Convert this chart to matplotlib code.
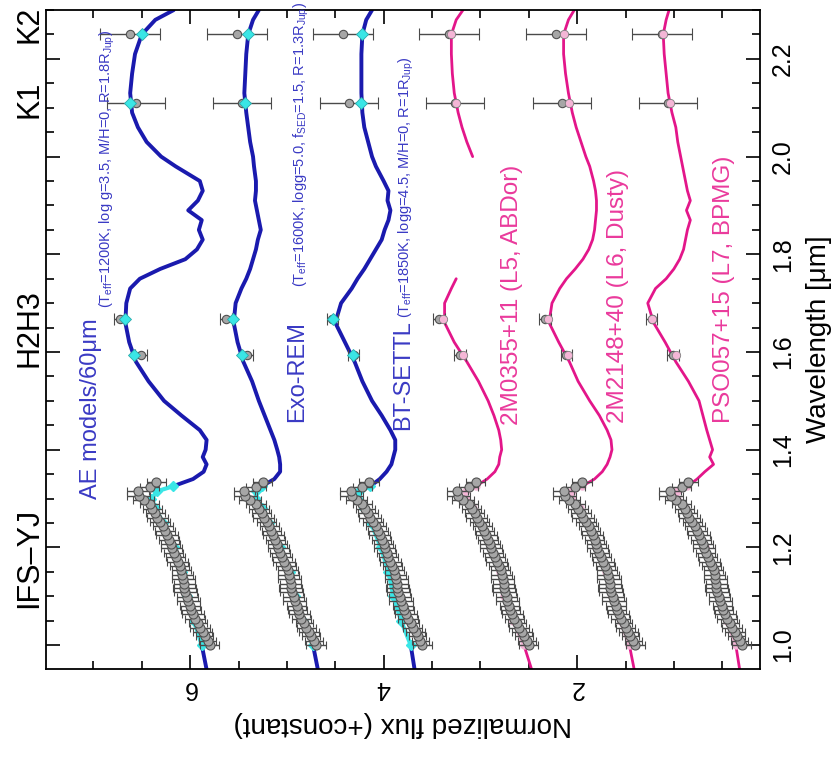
import numpy as np
import matplotlib
matplotlib.use("Agg")
import matplotlib.pyplot as plt
from matplotlib.ticker import MultipleLocator
import matplotlib.transforms as mtransforms

plt.rcParams['font.family'] = ['Liberation Sans', 'DejaVu Sans']
plt.rcParams['mathtext.default'] = 'regular'

# wavelength grid of the model / template spectra [um]
model_wl = [0.95, 1.00, 1.05, 1.10, 1.15, 1.20, 1.25, 1.28, 1.30, 1.315,
            1.325, 1.34, 1.355, 1.37, 1.385, 1.40, 1.42, 1.44, 1.47, 1.50,
            1.54, 1.58, 1.62, 1.66, 1.70, 1.73, 1.75, 1.77, 1.79, 1.81,
            1.83, 1.85, 1.87, 1.89, 1.91, 1.93, 1.95, 1.98, 2.00, 2.03,
            2.06, 2.09, 2.13, 2.17, 2.21, 2.25, 2.28, 2.30]

ae_flux = [5.83, 5.88, 5.96, 6.03, 6.08, 6.17, 6.28, 6.36, 6.40, 6.34,
           6.18, 5.97, 5.86, 5.83, 5.87, 5.84, 5.83, 5.90, 6.09, 6.27,
           6.43, 6.56, 6.63, 6.67, 6.66, 6.62, 6.52, 6.31, 6.05, 5.93,
           5.87, 5.91, 5.88, 6.02, 5.92, 5.87, 5.90, 6.15, 6.30, 6.45,
           6.54, 6.60, 6.62, 6.60, 6.57, 6.50, 6.36, 6.17]
exorem_flux = [4.68, 4.73, 4.83, 4.92, 4.97, 5.07, 5.18, 5.26, 5.32, 5.32,
               5.26, 5.13, 5.07, 5.07, 5.08, 5.10, 5.13, 5.17, 5.23, 5.29,
               5.36, 5.45, 5.51, 5.55, 5.53, 5.47, 5.42, 5.38, 5.35, 5.32,
               5.30, 5.27, 5.29, 5.31, 5.33, 5.32, 5.32, 5.34, 5.35, 5.38,
               5.40, 5.42, 5.44, 5.43, 5.42, 5.40, 5.35, 5.29]
btsettl_flux = [3.68, 3.72, 3.82, 3.90, 3.95, 4.03, 4.13, 4.20, 4.27, 4.25,
                4.14, 4.04, 3.97, 3.92, 3.90, 3.88, 3.88, 3.93, 4.02, 4.12,
                4.22, 4.30, 4.40, 4.50, 4.44, 4.33, 4.27, 4.20, 4.14, 4.08,
                4.02, 3.99, 3.95, 3.93, 3.96, 3.95, 4.00, 4.08, 4.12, 4.16,
                4.20, 4.22, 4.23, 4.23, 4.23, 4.22, 4.18, 4.12]
m0355_flux = [2.47, 2.55, 2.66, 2.76, 2.80, 2.90, 3.00, 3.08, 3.15, 3.15,
              3.05, 2.93, 2.85, 2.81, 2.80, 2.78, 2.79, 2.81, 2.86, 2.92,
              3.02, 3.14, 3.27, 3.37, 3.37, 3.30, 3.25, np.nan, np.nan, np.nan,
              np.nan, np.nan, np.nan, np.nan, np.nan, np.nan, np.nan, np.nan, 3.08, 3.14,
              3.19, 3.23, 3.27, 3.29, 3.30, 3.30, 3.25, 3.18]
m2148_flux = [1.41, 1.46, 1.55, 1.64, 1.70, 1.80, 1.90, 1.97, 2.05, 2.05,
              1.95, 1.82, 1.74, 1.69, 1.66, 1.64, 1.65, 1.69, 1.77, 1.87,
              1.99, 2.08, 2.19, 2.29, 2.26, 2.18, 2.11, 2.02, 1.94, 1.88,
              1.84, 1.82, 1.81, 1.80, 1.80, 1.81, 1.83, 1.87, 1.91, 1.96,
              2.01, 2.05, 2.09, 2.12, 2.14, 2.14, 2.09, 2.03]
pso057_flux = [0.32, 0.36, 0.45, 0.53, 0.58, 0.68, 0.80, 0.88, 0.97, 0.97,
               0.86, 0.76, 0.68, 0.59, 0.63, 0.60, 0.63, 0.66, 0.70, 0.74,
               0.85, 0.98, 1.09, 1.21, 1.27, 1.19, 1.08, 1.00, 0.94, 0.90,
               0.88, 0.86, 0.83, 0.87, 0.83, 0.86, 0.88, 0.91, 0.93, 0.96,
               0.98, 1.02, 1.06, 1.08, 1.10, 1.11, 1.08, 1.05]

# IFS-YJ spectrum of the companion (no offset)
yj_wl = [1.000, 1.009, 1.018, 1.027, 1.036, 1.045, 1.054, 1.063, 1.072, 1.081,
         1.090, 1.099, 1.108, 1.117, 1.126, 1.135, 1.144, 1.153, 1.162, 1.171,
         1.180, 1.189, 1.198, 1.207, 1.216, 1.225, 1.234, 1.243, 1.252, 1.261,
         1.270, 1.279, 1.288, 1.297, 1.306, 1.315, 1.324, 1.333]
yj_flux = [0.30, 0.32, 0.35, 0.37, 0.40, 0.42, 0.45, 0.47, 0.49, 0.50,
           0.52, 0.53, 0.55, 0.56, 0.56, 0.57, 0.58, 0.59, 0.61, 0.63,
           0.65, 0.67, 0.69, 0.70, 0.72, 0.74, 0.76, 0.78, 0.81, 0.84,
           0.86, 0.89, 0.92, 0.98, 1.03, 1.04, 0.92, 0.85]
yj_err = [0.10, 0.09, 0.09, 0.10, 0.10, 0.09, 0.10, 0.11, 0.10, 0.10,
          0.12, 0.11, 0.12, 0.12, 0.11, 0.12, 0.11, 0.10, 0.10, 0.11,
          0.10, 0.10, 0.11, 0.10, 0.10, 0.11, 0.10, 0.10, 0.10, 0.11,
          0.10, 0.10, 0.10, 0.11, 0.12, 0.11, 0.10, 0.10]

# IRDIS photometry H2, H3, K1, K2
phot_wl = [1.593, 1.667, 2.110, 2.251]
phot_flux = [1.01, 1.23, 1.06, 1.12]
phot_err = [0.06, 0.06, 0.30, 0.31]

# vertical offsets of the six comparisons (top to bottom)
offsets = [5.5, 4.4, 3.3, 2.2, 1.1, 0.0]

# model / template value in each photometric band
model_phot = [[6.58, 6.67, 6.62, 6.50],
              [5.46, 5.56, 5.43, 5.40],
              [4.32, 4.52, 4.23, 4.22],
              [3.18, 3.39, 3.25, 3.30],
              [2.09, 2.30, 2.08, 2.14],
              [0.98, 1.23, 1.04, 1.11]]

spectra = [ae_flux, exorem_flux, btsettl_flux, m0355_flux, m2148_flux, pso057_flux]

blue = '#1a1aae'
blue_txt = '#3a3ac4'
mag = '#e3168a'
mag_txt = '#ea3a9c'
cyan = '#3ae6e6'
pink = '#f4b6d6'

fig = plt.figure(figsize=(8.38, 7.62), dpi=100)
ax = fig.add_axes([0.0549, 0.1220, 0.8520, 0.8648])

wl = np.array(model_wl)
for i, flux in enumerate(spectra):
    flux = np.array(flux, dtype=float)
    is_model = i < 3
    line_c = blue if is_model else mag
    in_c = cyan if is_model else pink
    outside = np.where((wl <= 1.0) | (wl >= 1.325), flux, np.nan)
    inside = np.where((wl >= 1.0) & (wl <= 1.325), flux, np.nan)
    ax.plot(outside, wl, color=line_c, lw=2.8 if is_model else 2.0, zorder=2,
            solid_capstyle='round')
    ax.plot(inside, wl, color=in_c, lw=3, zorder=2.5,
            marker='D' if is_model else 'o', ms=5, mec=in_c)

    off = offsets[i]
    ax.errorbar(np.array(yj_flux) + off, yj_wl, xerr=yj_err, fmt='o', ms=6.5,
                mfc='#a6a6a6', mec='#505050', mew=0.8, ecolor='#4a4a4a',
                elinewidth=1.0, capsize=3, capthick=1.0, zorder=3)
    ax.errorbar(np.array(phot_flux) + off, phot_wl, xerr=phot_err, fmt='o', ms=6,
                mfc='#a6a6a6', mec='#505050', mew=0.8, ecolor='#4a4a4a',
                elinewidth=1.0, capsize=4, capthick=1.0, zorder=3)
    if is_model:
        ax.plot(model_phot[i], phot_wl, ls='none', marker='D', ms=6,
                mfc=cyan, mec='#2aa9a9', mew=0.6, zorder=4)
    else:
        ax.plot(model_phot[i], phot_wl, ls='none', marker='o', ms=6,
                mfc=pink, mec='#808080', mew=0.6, zorder=4)

# labels of the comparisons
kw = dict(rotation=90, rotation_mode='anchor', ha='left', va='center')
ax.text(7.02, 1.30, 'AE models/60μm', color=blue_txt, fontsize=17, **kw)
ax.text(6.86, 1.69, r'(T$_{eff}$=1200K, log g=3.5, M/H=0, R=1.8R$_{Jup}$)',
        color=blue_txt, fontsize=10.5, **kw)
ax.text(4.89, 1.457, 'Exo-REM', color=blue_txt, fontsize=17, **kw)
ax.text(4.85, 1.734, r'(T$_{eff}$=1600K, logg=5.0, f$_{SED}$=1.5, R=1.3R$_{Jup}$)',
        color=blue_txt, fontsize=10.5, **kw)
ax.text(3.80, 1.441, 'BT-SETTL', color=blue_txt, fontsize=17, **kw)
ax.text(3.77, 1.67, r'(T$_{eff}$=1850K, logg=4.5, M/H=0, R=1R$_{Jup}$)',
        color=blue_txt, fontsize=10.5, **kw)
ax.text(2.67, 1.451, '2M0355+11 (L5, ABDor)', color=mag_txt, fontsize=17.5, **kw)
ax.text(1.58, 1.455, '2M2148+40 (L6, Dusty)', color=mag_txt, fontsize=17.5, **kw)
ax.text(0.48, 1.455, 'PSO057+15 (L7, BPMG)', color=mag_txt, fontsize=17.5, **kw)

# band names outside the frame
trans = mtransforms.blended_transform_factory(ax.transAxes, ax.transData)
for name, w in [('IFS\u2013YJ', 1.178), ('H2H3', 1.650), ('K1', 2.117), ('K2', 2.270)]:
    ax.text(-0.023, w, name, transform=trans, rotation=90, ha='center',
            va='center', fontsize=22, clip_on=False)

ax.set_xlim(7.49, 0.11)
ax.set_ylim(0.951, 2.30)
ax.set_xticks([2, 4, 6])
ax.xaxis.set_minor_locator(MultipleLocator(0.5))
yt = [1.0, 1.2, 1.4, 1.6, 1.8, 2.0, 2.2]
ax.set_yticks(yt)
ax.set_yticklabels(['%.1f' % v for v in yt])
ax.yaxis.set_minor_locator(MultipleLocator(0.05))

ax.tick_params(which='both', direction='in', top=True, bottom=True, left=True,
               right=True, labelleft=False, labelright=True, width=1.2,
               labelsize=18)
ax.tick_params(which='major', length=10)
ax.tick_params(which='minor', length=6)
ax.tick_params(axis='x', labelrotation=180, pad=5)
ax.tick_params(axis='y', labelrotation=90, pad=8)
for lbl in ax.get_yticklabels():
    lbl.set_va('center')
for s in ax.spines.values():
    s.set_linewidth(1.3)

ax.set_xlabel('Normalized flux (+constant)', fontsize=20, rotation=180, labelpad=8)
ax.yaxis.set_label_position('right')
ax.set_ylabel('Wavelength [μm]', fontsize=20, rotation=90, labelpad=8)

fig.savefig('out.png', dpi=100)
